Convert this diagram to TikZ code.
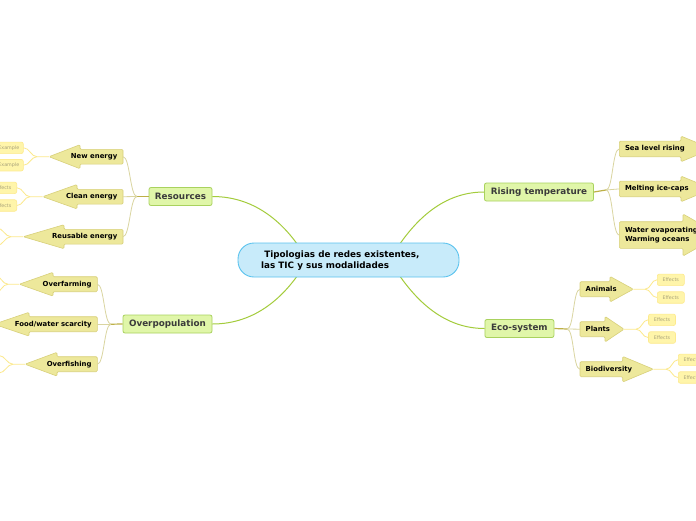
\documentclass[tikz,border=0pt]{standalone}
\usepackage{fontspec}
\setmainfont{DejaVu Sans}
\definecolor{subF}{HTML}{EDE89B}
\definecolor{subB}{HTML}{D8D07A}
\definecolor{mainF}{HTML}{E0F6A9}
\definecolor{mainB}{HTML}{A9D25E}
\definecolor{mainT}{HTML}{3B3B3B}
\definecolor{centerF}{HTML}{C8EBFA}
\definecolor{centerB}{HTML}{5BC3EE}
\definecolor{leafF}{HTML}{FFF5AA}
\definecolor{leafB}{HTML}{FDEA8E}
\definecolor{leafT}{HTML}{A8A27A}
\definecolor{trunkC}{HTML}{A4CC3C}
\definecolor{stubC}{HTML}{BDB047}
\definecolor{branchC}{HTML}{DAD5A0}
\definecolor{twigC}{HTML}{FCE98C}
\tikzset{
  subarrow/.style={fill=subF, draw=subB, line width=0.6pt, rounded corners=1.2pt},
  subtext/.style={font=\bfseries\fontsize{6.9}{8.3}\selectfont, text=black, inner sep=0pt, align=left},
  mainnode/.style={fill=mainF, draw=mainB, line width=0.8pt, rounded corners=2pt, minimum height=18pt, inner sep=0pt, font=\bfseries\fontsize{8.8}{10}\selectfont, text=mainT},
  centernode/.style={fill=centerF, draw=centerB, line width=0.9pt, rounded corners=16pt, minimum width=221pt, minimum height=34pt, inner sep=0pt},
  centertext/.style={font=\bfseries\fontsize{8.8}{11}\selectfont, text=black, inner sep=0pt, align=left},
  leaf/.style={fill=leafF, draw=leafB, line width=0.6pt, rounded corners=2pt, minimum width=27pt, minimum height=11.5pt, inner sep=0pt, font=\fontsize{4.8}{5}\selectfont, text=leafT},
  trunk/.style={draw=trunkC, line width=1pt},
  stub/.style={draw=stubC, line width=1.2pt},
  branch/.style={draw=branchC, line width=0.8pt},
  twig/.style={draw=twigC, line width=0.8pt},
}
% name, boxright, cy, boxhalf, headhalf, basex, tipx, text
\newcommand\mkLArrow[8]{%
  \path[subarrow] (#2,#3-#4) -- (#6,#3-#4) -- (#6,#3-#5) -- (#7,#3) -- (#6,#3+#5) -- (#6,#3+#4) -- (#2,#3+#4) -- cycle;
  \node[subtext,anchor=east] (#1) at (#2-5.5,#3) {#8};
  \coordinate (#1-in) at (#2,#3);
  \coordinate (#1-tip) at (#7,#3);}
% name, boxleft, cy, boxhalf, headhalf, basex, tipx, text
\newcommand\mkRArrow[8]{%
  \path[subarrow] (#2,#3-#4) -- (#6,#3-#4) -- (#6,#3-#5) -- (#7,#3) -- (#6,#3+#5) -- (#6,#3+#4) -- (#2,#3+#4) -- cycle;
  \node[subtext,anchor=west] (#1) at (#2+5.5,#3) {#8};
  \coordinate (#1-in) at (#2,#3);
  \coordinate (#1-tip) at (#7,#3);}
\begin{document}
\begin{tikzpicture}[x=1pt,y=-1pt]
\useasboundingbox[fill=white] (0,0) rectangle (696,520);

% main nodes
\node[mainnode, minimum width=63pt] (res) at (180.5,196.5) {Resources};
\node[mainnode, minimum width=89pt] (over) at (167.5,324) {Overpopulation};
\node[mainnode, minimum width=109pt] (rise) at (539,192) {Rising temperature};
\node[mainnode, minimum width=69pt] (eco) at (519.4,328.5) {Eco-system};

% attachment points on the central topic
\coordinate (cRes) at (300,248);
\coordinate (cOver) at (300,272);
\coordinate (cRise) at (397,248);
\coordinate (cEco) at (397,272);

% trunks
\draw[trunk] (res.east) .. controls +(45,0) and +(-15,-22) .. (cRes);
\draw[trunk] (over.east) .. controls +(45,0) and +(-15,22) .. (cOver);
\draw[trunk] (cRise) .. controls +(15,-22) and +(-45,0) .. (rise.west);
\draw[trunk] (cEco) .. controls +(15,22) and +(-45,0) .. (eco.west);

% central topic
\node[centernode] (center) at (348.5,260) {};
\node[centertext, anchor=west] (title) at (261,260.5) {\ Tipologias de redes existentes,\\las TIC y sus modalidades};

% sub arrows, left
\mkLArrow{newen}{123}{156.7}{7.4}{12}{80}{49}{New energy}
\mkLArrow{cleanen}{123}{196.7}{7.4}{12.2}{77}{42.7}{Clean energy}
\mkLArrow{reusen}{123}{236.7}{7.4}{12}{64}{23.3}{Reusable energy}
\mkLArrow{overfarm}{97.3}{284.2}{7.5}{11.9}{53}{19.3}{Overfarming}
\mkLArrow{foodwater}{97.3}{324.2}{7.5}{11.9}{29}{-6}{Food/water scarcity}
\mkLArrow{overfish}{97.3}{364.2}{7.5}{11.9}{57}{25}{Overfishing}

% sub arrows, right
\mkRArrow{sealevel}{619.3}{148.9}{7.8}{12.8}{681}{712}{Sea level rising}
\mkRArrow{melting}{619.3}{188.9}{7.8}{12.8}{681}{712}{Melting ice-caps}
\mkRArrow{water}{619.3}{235}{13.3}{21}{683}{720}{Water evaporating\\Warming oceans}
\mkRArrow{animals}{580}{289.2}{7.5}{12.8}{610}{633.3}{Animals}
\mkRArrow{plants}{580}{329.2}{7.5}{12.8}{605}{624}{Plants}
\mkRArrow{biodiv}{580}{369.2}{7.5}{12.8}{622.7}{653.3}{Biodiversity}

% branch points
\coordinate (bRes) at (137,196.5);
\coordinate (bOver) at (111,324.2);
\coordinate (bRise) at (606,190);
\coordinate (bEco) at (567,329);

% stubs and branches
\draw[stub] (res.west) -- (bRes);
\draw[branch] (bRes) .. controls +(-7,0) and +(7,0) .. (newen-in);
\draw[branch] (bRes) -- (cleanen-in);
\draw[branch] (bRes) .. controls +(-7,0) and +(7,0) .. (reusen-in);
\draw[stub] (over.west) -- (bOver);
\draw[branch] (bOver) .. controls +(-7,0) and +(7,0) .. (overfarm-in);
\draw[branch] (bOver) -- (foodwater-in);
\draw[branch] (bOver) .. controls +(-7,0) and +(7,0) .. (overfish-in);
\draw[stub] (rise.east) -- (bRise);
\draw[branch] (bRise) .. controls +(7,0) and +(-7,0) .. (sealevel-in);
\draw[branch] (bRise) .. controls +(7,0) and +(-7,0) .. (melting-in);
\draw[branch] (bRise) .. controls +(7,0) and +(-7,0) .. (water-in);
\draw[stub] (eco.east) -- (bEco);
\draw[branch] (bEco) .. controls +(7,0) and +(-7,0) .. (animals-in);
\draw[branch] (bEco) -- (plants-in);
\draw[branch] (bEco) .. controls +(7,0) and +(-7,0) .. (biodiv-in);

% leaves, left
\node[leaf, minimum width=29pt] (ex1) at (8.8,147.8) {Example};
\node[leaf, minimum width=29pt] (ex2) at (8.8,165.2) {Example};
\node[leaf] (ce1) at (3.2,187.8) {Effects};
\node[leaf] (ce2) at (3.2,205.5) {Effects};
% leaves, right
\node[leaf] (an1) at (670.8,279.8) {Effects};
\node[leaf] (an2) at (670.8,297.5) {Effects};
\node[leaf] (pl1) at (662,319.8) {Effects};
\node[leaf] (pl2) at (662,337.5) {Effects};
\node[leaf] (bd1) at (691.8,359.8) {Effects};
\node[leaf] (bd2) at (691.8,377.5) {Effects};

% twig ends leading off the page
\coordinate (ru1) at (-3,228);
\coordinate (ru2) at (-3,245.5);
\coordinate (of1) at (-5,275.5);
\coordinate (of2) at (-5,293);
\coordinate (oh1) at (-1,355.5);
\coordinate (oh2) at (-1,373);

% twigs
\coordinate (tNew) at (37,156.7);
\draw[twig] (newen-tip) -- (tNew) .. controls +(-6,0) and +(6,0) .. (ex1.east);
\draw[twig] (tNew) .. controls +(-6,0) and +(6,0) .. (ex2.east);
\coordinate (tClean) at (30,196.7);
\draw[twig] (cleanen-tip) -- (tClean) .. controls +(-6,0) and +(6,0) .. (ce1.east);
\draw[twig] (tClean) .. controls +(-6,0) and +(6,0) .. (ce2.east);
\coordinate (tReus) at (11,236.7);
\draw[twig] (reusen-tip) -- (tReus) .. controls +(-6,0) and +(6,0) .. (ru1);
\draw[twig] (tReus) .. controls +(-6,0) and +(6,0) .. (ru2);
\coordinate (tFarm) at (8,284.2);
\draw[twig] (overfarm-tip) -- (tFarm) .. controls +(-6,0) and +(6,0) .. (of1);
\draw[twig] (tFarm) .. controls +(-6,0) and +(6,0) .. (of2);
\coordinate (tFish) at (13,364.2);
\draw[twig] (overfish-tip) -- (tFish) .. controls +(-6,0) and +(6,0) .. (oh1);
\draw[twig] (tFish) .. controls +(-6,0) and +(6,0) .. (oh2);
\coordinate (tAn) at (645,289.2);
\draw[twig] (animals-tip) -- (tAn) .. controls +(6,0) and +(-6,0) .. (an1.west);
\draw[twig] (tAn) .. controls +(6,0) and +(-6,0) .. (an2.west);
\coordinate (tPl) at (636,329.2);
\draw[twig] (plants-tip) -- (tPl) .. controls +(6,0) and +(-6,0) .. (pl1.west);
\draw[twig] (tPl) .. controls +(6,0) and +(-6,0) .. (pl2.west);
\coordinate (tBd) at (666,369.2);
\draw[twig] (biodiv-tip) -- (tBd) .. controls +(6,0) and +(-6,0) .. (bd1.west);
\draw[twig] (tBd) .. controls +(6,0) and +(-6,0) .. (bd2.west);
\end{tikzpicture}
\end{document}
